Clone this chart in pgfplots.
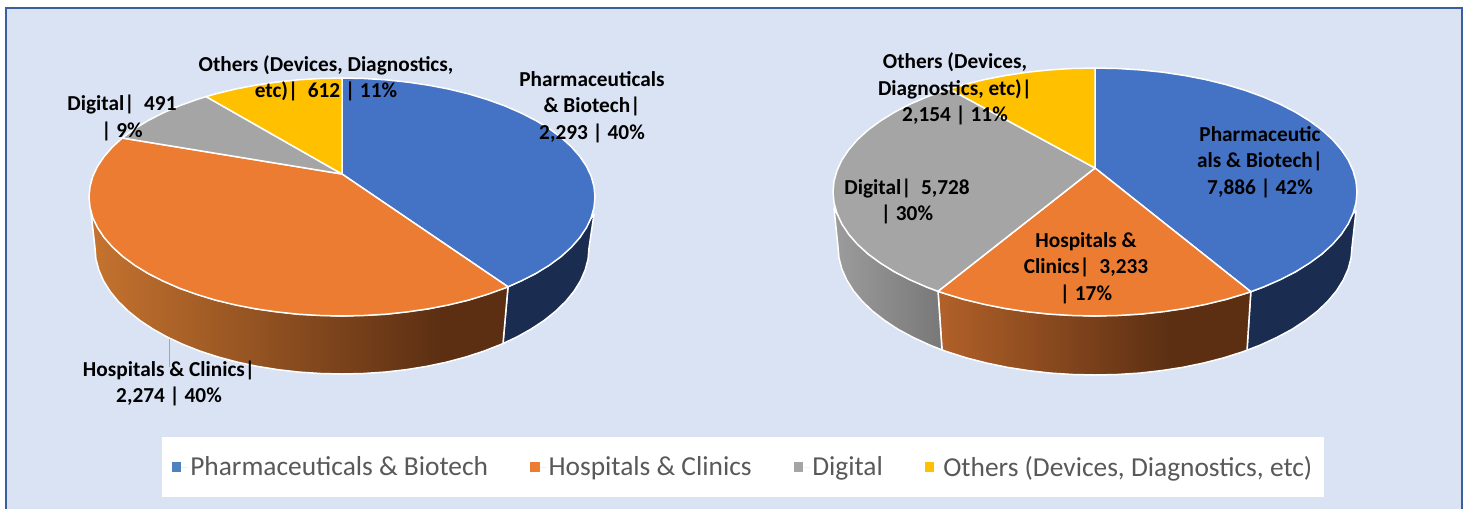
\documentclass[border=0pt]{standalone}
\usepackage{fontspec}
\setmainfont{Carlito}
\usepackage{pgfplots}
\pgfplotsset{compat=1.18}
\definecolor{cblue}{HTML}{4472C4}
\definecolor{corange}{HTML}{EB7C31}
\definecolor{cgrey}{HTML}{A5A5A5}
\definecolor{cyellow}{HTML}{FFC000}
\definecolor{cpanel}{HTML}{DAE3F3}
\definecolor{cborder}{HTML}{3A5F9E}
\definecolor{wblue}{HTML}{1A2D50}
\definecolor{orL}{HTML}{C5732F}
\definecolor{orM}{HTML}{B26129}
\definecolor{orD}{HTML}{5C2F13}
\definecolor{grL}{HTML}{9C9C9C}
\definecolor{grD}{HTML}{787878}
\definecolor{lgblue}{HTML}{4F81BD}
\pgfdeclarehorizontalshading{wallOrangeA}{100bp}{color(0bp)=(orL); color(25bp)=(orL); color(67bp)=(orD); color(100bp)=(orD)}
\pgfdeclarehorizontalshading{wallOrangeB}{100bp}{color(0bp)=(orM); color(25bp)=(orM); color(62bp)=(orD); color(100bp)=(orD)}
\pgfdeclarehorizontalshading{wallGrey}{100bp}{color(0bp)=(grL); color(25bp)=(grL); color(75bp)=(grD); color(100bp)=(grD)}
\begin{document}
\begin{tikzpicture}[
  lab/.style={align=center,font=\fontsize{21.3}{26.3}\bfseries\selectfont,text=black,inner sep=0pt}]
\begin{axis}[
  scale only axis, width=1467pt, height=509pt,
  xmin=0, xmax=1467, ymin=0, ymax=509, y dir=reverse,
  hide axis, clip=true,
  slice/.style={draw=white, line width=1.5pt, line join=round, mark=none},
  legend style={at={(axis cs:743,467)}, anchor=center, fill=white, draw=none,
    legend columns=4, font=\fontsize{27.4}{30}\selectfont, text=black!65,
    inner xsep=10pt, inner ysep=17pt,
    /tikz/every even column/.append style={column sep=40pt}},
]
% page and panel
\addplot[fill=white, draw=none, mark=none, forget plot] coordinates {(0,0) (1467,0) (1467,509) (0,509)} -- cycle;
\addplot[fill=cpanel, draw=none, mark=none, forget plot] coordinates {(6,8) (1462,8) (1462,509) (6,509)} -- cycle;
\addplot[draw=cborder, line width=2.5pt, mark=none, forget plot] coordinates {(6,509) (6,8) (1462,8) (1462,509)};

% ---- left pie: walls
\addplot[slice, fill=wblue, forget plot] coordinates {(594,214) (591.2,217.7) (579.7,237.7) (561.1,256.5) (535.8,273.5) (508,286.8) (503,343.5) (516.7,337.1) (531.2,329) (544.3,320.3) (555.9,311) (565.9,301.2) (574.1,291.1) (580.6,280.6) (585.2,269.9) (588.1,259) (589,248)} -- cycle;
\addplot[slice, shading=wallOrangeA, forget plot] coordinates {(508,286.8) (468.5,300.1) (428.5,308.8) (385.9,314.2) (342,316) (298.1,314.2) (255.5,308.8) (215.5,300.1) (179.4,288.2) (148.2,273.5) (122.9,256.5) (104.3,237.7) (92.8,217.7) (91,212) (95,248) (95.9,259) (98.8,269.9) (103.4,280.6) (109.9,291.1) (118.1,301.2) (128.1,311) (139.7,320.3) (152.8,329) (167.3,337.1) (183.2,344.5) (200.3,351.2) (218.5,357.1) (237.6,362.2) (257.5,366.4) (278.1,369.7) (299.1,372.1) (320.5,373.5) (342,374) (363.5,373.5) (384.9,372.1) (405.9,369.7) (426.5,366.4) (446.4,362.2) (465.5,357.1) (483.7,351.2) (500.8,344.5) (503,343.5)} -- cycle;
% left pie: top
\addplot[slice, fill=cblue, forget plot] coordinates {(342,174) (342,78) (364.1,78.5) (385.9,79.8) (407.5,82.1) (428.5,85.2) (448.9,89.1) (468.5,93.9) (487.1,99.5) (504.6,105.8) (520.9,112.9) (535.8,120.5) (549.3,128.7) (561.1,137.5) (571.3,146.7) (579.7,156.3) (586.4,166.2) (591.2,176.3) (594,186.6) (595,197) (594,207.4) (591.2,217.7) (586.4,227.8) (579.7,237.7) (571.3,247.3) (561.1,256.5) (549.3,265.3) (535.8,273.5) (520.9,281.1) (508,286.8)} -- cycle;
\addplot[slice, fill=corange, forget plot] coordinates {(342,174) (508,286.8) (504.6,288.2) (487.1,294.5) (468.5,300.1) (448.9,304.9) (428.5,308.8) (407.5,311.9) (385.9,314.2) (364.1,315.5) (342,316) (319.9,315.5) (298.1,314.2) (276.5,311.9) (255.5,308.8) (235.1,304.9) (215.5,300.1) (196.9,294.5) (179.4,288.2) (163.1,281.1) (148.2,273.5) (134.7,265.3) (122.9,256.5) (112.7,247.3) (104.3,237.7) (97.6,227.8) (92.8,217.7) (90,207.4) (89,197) (90,186.6) (92.8,176.3) (97.6,166.2) (104.3,156.3) (112.7,146.7) (122.3,138)} -- cycle;
\addplot[slice, fill=cgrey, forget plot] coordinates {(342,174) (122.3,138) (134.7,128.7) (148.2,120.5) (163.1,112.9) (179.4,105.8) (196.9,99.5) (206.1,96.6)} -- cycle;
\addplot[slice, fill=cyellow, forget plot] coordinates {(342,174) (206.1,96.6) (215.5,93.9) (235.1,89.1) (255.5,85.2) (276.5,82.1) (298.1,79.8) (319.9,78.5) (342,78)} -- cycle;
% leader line
\addplot[draw=black!35, line width=1pt, mark=none, forget plot] coordinates {(169.5,339) (169.5,367)};

% ---- right pie: walls
\addplot[slice, fill=wblue, forget plot] coordinates {(1356,211) (1353,213.5) (1341.2,234.4) (1321.9,254) (1295.7,271.7) (1263.4,287) (1250.8,291.7) (1247,350.2) (1260.2,345.1) (1276.7,337.5) (1292,329.3) (1305.5,320.4) (1317.6,311) (1327.9,301.1) (1336.5,290.8) (1343.2,280.1) (1348.1,269.2) (1351,258.2) (1352,247)} -- cycle;
\addplot[slice, shading=wallOrangeB, forget plot] coordinates {(1250.8,291.7) (1226,299.4) (1184.6,308.5) (1140.5,314.1) (1095,316) (1049.5,314.1) (1005.4,308.5) (964,299.4) (938,291.3) (942,349.9) (947.6,351.9) (966.5,357.9) (986.4,363) (1007.1,367.3) (1028.5,370.6) (1050.4,373.1) (1072.6,374.5) (1095,375) (1117.4,374.5) (1139.6,373.1) (1161.5,370.6) (1182.9,367.3) (1203.6,363) (1223.5,357.9) (1242.4,351.9) (1247,350.2)} -- cycle;
\addplot[slice, shading=wallGrey, forget plot] coordinates {(938,291.3) (926.6,287) (894.3,271.7) (868.1,254) (848.8,234.4) (837,213.5) (834,208) (838,247) (839,258.2) (841.9,269.2) (846.8,280.1) (853.5,290.8) (862.1,301.1) (872.4,311) (884.5,320.4) (898,329.3) (913.3,337.5) (929.8,345.1) (942,349.9)} -- cycle;
% right pie: top
\addplot[slice, fill=cblue, forget plot] coordinates {(1095,168) (1095,68) (1117.8,68.5) (1140.5,69.9) (1162.8,72.2) (1184.6,75.5) (1205.7,79.6) (1226,84.6) (1245.3,90.4) (1263.4,97) (1280.3,104.3) (1295.7,112.3) (1309.6,120.9) (1321.9,130) (1332.5,139.6) (1341.2,149.6) (1348.1,159.9) (1353,170.5) (1356,181.2) (1357,192) (1356,202.8) (1353,213.5) (1348.1,224.1) (1341.2,234.4) (1332.5,244.4) (1321.9,254) (1309.6,263.1) (1295.7,271.7) (1280.3,279.7) (1263.4,287) (1250.8,291.7)} -- cycle;
\addplot[slice, fill=corange, forget plot] coordinates {(1095,168) (1250.8,291.7) (1245.3,293.6) (1226,299.4) (1205.7,304.4) (1184.6,308.5) (1162.8,311.8) (1140.5,314.1) (1117.8,315.5) (1095,316) (1072.2,315.5) (1049.5,314.1) (1027.2,311.8) (1005.4,308.5) (984.3,304.4) (964,299.4) (944.7,293.6) (938,291.3)} -- cycle;
\addplot[slice, fill=cgrey, forget plot] coordinates {(1095,168) (938,291.3) (926.6,287) (909.7,279.7) (894.3,271.7) (880.4,263.1) (868.1,254) (857.5,244.4) (848.8,234.4) (841.9,224.1) (837,213.5) (834,202.8) (833,192) (834,181.2) (837,170.5) (841.9,159.9) (848.8,149.6) (857.5,139.6) (868.1,130) (880.4,120.9) (894.3,112.3) (909.7,104.3) (926.6,97) (944.7,90.4) (949.3,89)} -- cycle;
\addplot[slice, fill=cyellow, forget plot] coordinates {(1095,168) (949.3,89) (964,84.6) (984.3,79.6) (1005.4,75.5) (1027.2,72.2) (1049.5,69.9) (1072.2,68.5) (1095,68)} -- cycle;

% legend
\pgfplotsset{sq/.style={legend image code/.code={\path[##1] (0pt,-5pt) rectangle (9.5pt,5pt); \path (0pt,0pt) -- (16.5pt,0pt);}}}
\addlegendimage{sq, fill=lgblue, draw=none}
\addlegendentry{Pharmaceuticals \& Biotech}
\addlegendimage{sq, fill=corange, draw=none}
\addlegendentry{Hospitals \& Clinics}
\addlegendimage{sq, fill=cgrey, draw=none}
\addlegendentry{Digital}
\addlegendimage{sq, fill=cyellow, draw=none}
\addlegendentry{Others (Devices, Diagnostics, etc)}

% labels: left pie
\node[lab] at (axis cs:326,78) {Others (Devices, Diagnostics,\\etc)|\ \ 612 | 11\%};
\node[lab] at (axis cs:122,118) {Digital|\ \ 491\\| 9\%};
\node[lab] at (axis cs:592,107) {Pharmaceuticals\\\& Biotech|\\2,293 | 40\%};
\node[lab] at (axis cs:169,383.5) {Hospitals \& Clinics|\\2,274 | 40\%};
% labels: right pie
\node[lab] at (axis cs:955,89) {Others (Devices,\\Diagnostics, etc)|\\2,154 | 11\%};
\node[lab] at (axis cs:907,201.5) {Digital|\ \ 5,728\\| 30\%};
\node[lab] at (axis cs:1086,268) {Hospitals \&\\Clinics|\ \ 3,233\\| 17\%};
\node[lab] at (axis cs:1260,162) {Pharmaceutic\\als \& Biotech|\\7,886 | 42\%};
\end{axis}
\end{tikzpicture}
\end{document}
